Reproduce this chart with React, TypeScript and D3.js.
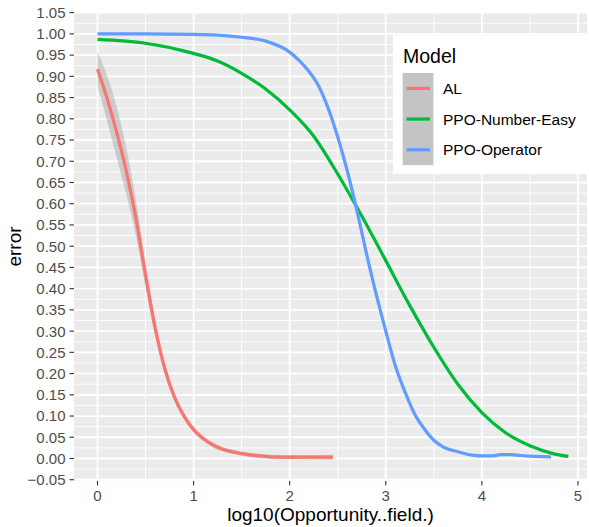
import React, { useRef, useEffect } from "react";
import * as d3 from "d3";

// AL (loess fit with confidence band)
const alX = [0, 0.1, 0.2, 0.3, 0.4, 0.5, 0.6, 0.7, 0.8, 0.9, 1.0, 1.1, 1.2, 1.3, 1.4, 1.6, 1.8, 2.0, 2.2, 2.45];
const alY = [0.917, 0.848, 0.768, 0.676, 0.566, 0.432, 0.308, 0.212, 0.145, 0.1, 0.068, 0.047, 0.032, 0.022, 0.016, 0.008, 0.004, 0.003, 0.003, 0.003];
const alLower = [0.877, 0.794, 0.708, 0.621, 0.524, 0.402, 0.288, 0.198, 0.135, 0.092, 0.061, 0.041, 0.026, 0.017, 0.011, 0.003, -0.001, -0.002, -0.002, -0.003];
const alUpper = [0.957, 0.902, 0.828, 0.731, 0.608, 0.462, 0.328, 0.226, 0.155, 0.108, 0.075, 0.053, 0.038, 0.027, 0.021, 0.013, 0.009, 0.008, 0.008, 0.009];

// PPO-Number-Easy
const easyX = [0, 0.5, 1.0, 1.25, 1.5, 1.75, 2.0, 2.25, 2.5, 2.75, 3.0, 3.25, 3.5, 3.75, 4.0, 4.25, 4.5, 4.75, 4.9];
const easyY = [0.987, 0.978, 0.954, 0.936, 0.907, 0.87, 0.821, 0.759, 0.67, 0.571, 0.466, 0.36, 0.262, 0.175, 0.108, 0.06, 0.03, 0.011, 0.005];

// PPO-Operator
const operatorX = [0, 0.5, 1.0, 1.25, 1.5, 1.75, 2.0, 2.1, 2.2, 2.3, 2.4, 2.5, 2.6, 2.7, 2.8, 2.9, 3.0, 3.1, 3.2, 3.3, 3.4, 3.5, 3.6, 3.75, 3.9, 4.0, 4.1, 4.2, 4.3, 4.4, 4.55, 4.72];
const operatorY = [1.0, 1.0, 0.999, 0.997, 0.992, 0.983, 0.957, 0.937, 0.912, 0.878, 0.825, 0.757, 0.677, 0.583, 0.482, 0.387, 0.3, 0.218, 0.157, 0.105, 0.07, 0.043, 0.027, 0.016, 0.008, 0.006, 0.006, 0.009, 0.009, 0.007, 0.005, 0.004];

const seriesNames = ["AL", "PPO-Number-Easy", "PPO-Operator"];
const seriesColors = ["#F8766D", "#00BA38", "#619CFF"];

const xTicks = [0, 1, 2, 3, 4, 5];
const xMinor = [0.5, 1.5, 2.5, 3.5, 4.5];
const yTicks = [-0.05, 0, 0.05, 0.1, 0.15, 0.2, 0.25, 0.3, 0.35, 0.4, 0.45, 0.5, 0.55, 0.6, 0.65, 0.7, 0.75, 0.8, 0.85, 0.9, 0.95, 1.0, 1.05];

const WIDTH = 589;
const HEIGHT = 527;

const App = () => {
    const svgRef = useRef<SVGSVGElement | null>(null);

    useEffect(() => {
        const svg = d3.select(svgRef.current);
        svg.selectAll("*").remove();

        const panel = { left: 74, right: 587, top: 12, bottom: 481 };
        const font = "'Liberation Sans', Arial, Helvetica, sans-serif";

        const x = d3.scaleLinear().domain([-0.2445, 5.094]).range([panel.left, panel.right]);
        const y = d3.scaleLinear().domain([-0.053, 1.0515]).range([panel.bottom, panel.top]);

        // panel background
        svg.append("rect")
            .attr("x", panel.left)
            .attr("y", panel.top)
            .attr("width", panel.right - panel.left)
            .attr("height", panel.bottom - panel.top)
            .attr("fill", "#EBEBEB");

        const grid = svg.append("g");
        // minor grid
        const yMinor = yTicks.slice(0, -1).map(t => t + 0.025);
        grid.selectAll(".ymin").data(yMinor).enter().append("line")
            .attr("x1", panel.left).attr("x2", panel.right)
            .attr("y1", d => y(d)).attr("y2", d => y(d))
            .attr("stroke", "#fff").attr("stroke-width", 0.9);
        grid.selectAll(".xmin").data(xMinor).enter().append("line")
            .attr("y1", panel.top).attr("y2", panel.bottom)
            .attr("x1", d => x(d)).attr("x2", d => x(d))
            .attr("stroke", "#fff").attr("stroke-width", 0.9);
        // major grid
        grid.selectAll(".ymaj").data(yTicks).enter().append("line")
            .attr("x1", panel.left).attr("x2", panel.right)
            .attr("y1", d => y(d)).attr("y2", d => y(d))
            .attr("stroke", "#fff").attr("stroke-width", 1.8);
        grid.selectAll(".xmaj").data(xTicks).enter().append("line")
            .attr("y1", panel.top).attr("y2", panel.bottom)
            .attr("x1", d => x(d)).attr("x2", d => x(d))
            .attr("stroke", "#fff").attr("stroke-width", 1.8);

        // confidence band for AL
        const bandData = alX.map((d, i) => ({ x: d, lo: alLower[i], hi: alUpper[i] }));
        const area = d3.area<{ x: number; lo: number; hi: number }>()
            .x(d => x(d.x))
            .y0(d => y(d.lo))
            .y1(d => y(d.hi))
            .curve(d3.curveMonotoneX);
        svg.append("path")
            .datum(bandData)
            .attr("d", area)
            .attr("fill", "#999999")
            .attr("fill-opacity", 0.4);

        const line = d3.line<[number, number]>()
            .x(d => x(d[0]))
            .y(d => y(d[1]))
            .curve(d3.curveMonotoneX);

        const series: [number, number][][] = [
            alX.map((d, i) => [d, alY[i]]),
            easyX.map((d, i) => [d, easyY[i]]),
            operatorX.map((d, i) => [d, operatorY[i]]),
        ];
        series.forEach((s, i) => {
            svg.append("path")
                .datum(s)
                .attr("d", line)
                .attr("fill", "none")
                .attr("stroke", seriesColors[i])
                .attr("stroke-width", 3.2);
        });

        // y axis ticks + labels
        const yAxis = svg.append("g");
        yAxis.selectAll("line").data(yTicks).enter().append("line")
            .attr("x1", panel.left - 4.5).attr("x2", panel.left)
            .attr("y1", d => y(d)).attr("y2", d => y(d))
            .attr("stroke", "#333333").attr("stroke-width", 1.1);
        yAxis.selectAll("text").data(yTicks).enter().append("text")
            .attr("x", panel.left - 8.5)
            .attr("y", d => y(d))
            .attr("dy", "0.36em")
            .attr("text-anchor", "end")
            .attr("font-family", font)
            .attr("font-size", 15)
            .attr("fill", "#4D4D4D")
            .text(d => d3.format(".2f")(d));

        // x axis ticks + labels
        const xAxis = svg.append("g");
        xAxis.selectAll("line").data(xTicks).enter().append("line")
            .attr("y1", panel.bottom).attr("y2", panel.bottom + 4.5)
            .attr("x1", d => x(d)).attr("x2", d => x(d))
            .attr("stroke", "#333333").attr("stroke-width", 1.1);
        xAxis.selectAll("text").data(xTicks).enter().append("text")
            .attr("x", d => x(d))
            .attr("y", panel.bottom + 19.5)
            .attr("text-anchor", "middle")
            .attr("font-family", font)
            .attr("font-size", 15)
            .attr("fill", "#4D4D4D")
            .text(d => String(d));

        // axis titles
        svg.append("text")
            .attr("x", (panel.left + panel.right) / 2)
            .attr("y", 521)
            .attr("text-anchor", "middle")
            .attr("font-family", font)
            .attr("font-size", 19)
            .attr("fill", "#000")
            .text("log10(Opportunity..field.)");
        svg.append("text")
            .attr("transform", `translate(21,${(panel.top + panel.bottom) / 2}) rotate(-90)`)
            .attr("text-anchor", "middle")
            .attr("font-family", font)
            .attr("font-size", 19)
            .attr("fill", "#000")
            .text("error");

        // legend
        const legend = svg.append("g").attr("transform", "translate(393,35)");
        legend.append("rect")
            .attr("width", 194).attr("height", 139)
            .attr("fill", "#fff");
        legend.append("text")
            .attr("x", 10).attr("y", 27.5)
            .attr("font-family", font)
            .attr("font-size", 19.5)
            .attr("fill", "#000")
            .text("Model");
        const keySize = 30.7;
        legend.append("rect")
            .attr("x", 9.7).attr("y", 38)
            .attr("width", keySize).attr("height", keySize * seriesNames.length)
            .attr("fill", "#C4C4C4");
        seriesNames.forEach((name, i) => {
            const cy = 38 + keySize * i + keySize / 2;
            legend.append("line")
                .attr("x1", 13.5).attr("x2", 37)
                .attr("y1", cy).attr("y2", cy)
                .attr("stroke", seriesColors[i])
                .attr("stroke-width", 3.2);
            legend.append("text")
                .attr("x", 50).attr("y", cy)
                .attr("dy", "0.36em")
                .attr("font-family", font)
                .attr("font-size", 15.5)
                .attr("fill", "#000")
                .text(name);
        });
    }, []);

    return (
        <svg
            ref={svgRef}
            width={WIDTH}
            height={HEIGHT}
            style={{ position: "absolute", left: 0, top: 0, background: "#fff" }}
        />
    );
};

export default App;
